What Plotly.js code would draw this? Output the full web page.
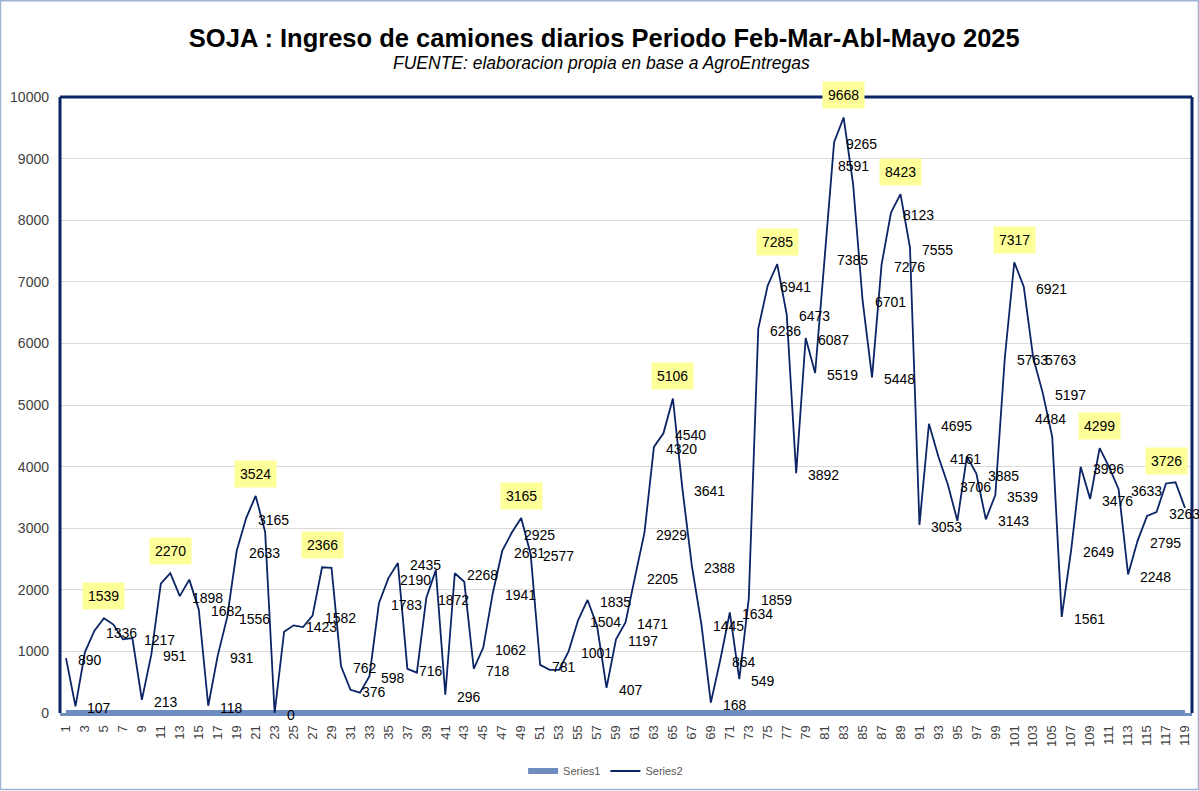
<!DOCTYPE html>
<html>
<head>
<meta charset="utf-8">
<script src="https://cdn.plot.ly/plotly-3.0.1.min.js"></script>
<style>html,body{margin:0;padding:0;background:#fff;}#chart{width:1199px;height:791px;}</style>
</head>
<body>
<div id="chart"></div>
<script>
// Día (categoría) 1..119
const dias = Array.from({length: 119}, (_, k) => k + 1);

// Ingreso diario de camiones (Series2)
const camiones = [
  890, 107, 990, 1336, 1539, 1435, 1195, 1217, 213, 951,
  2100, 2270, 1898, 2165, 1682, 118, 931, 1556, 2633, 3165,
  3524, 2940, 0, 1320, 1423, 1395, 1582, 2366, 2355, 762,
  376, 330, 598, 1783, 2190, 2435, 716, 655, 1872, 2320,
  296, 2268, 2130, 718, 1062, 1941, 2631, 2925, 3165, 2577,
  781, 700, 700, 1001, 1504, 1835, 1415, 407, 1197, 1471,
  2205, 2929, 4320, 4540, 5106, 3641, 2388, 1445, 168, 864,
  1634, 549, 1859, 6236, 6941, 7285, 6473, 3892, 6087, 5519,
  7385, 9265, 9668, 8591, 6701, 5448, 7276, 8123, 8423, 7555,
  3053, 4695, 4161, 3706, 3120, 4165, 3885, 3143, 3539, 5763,
  7317, 6921, 5763, 5197, 4484, 1561, 2649, 3996, 3476, 4299,
  3990, 3633, 2248, 2795, 3200, 3263, 3726, 3745, 3330
];

// Series1 (todo cero)
const serie1 = dias.map(() => 0);

// Días sin etiqueta visible
const sinEtiqueta = [3, 6, 7, 11, 14, 22, 24, 26, 29, 32, 38, 40, 43, 52, 53, 57, 95, 96, 111, 115, 118, 119];
// Picos resaltados en amarillo
const picos = [5, 12, 21, 28, 49, 65, 76, 83, 89, 101, 110, 117];

// Etiquetas del eje X (impares)
const ticksX = dias.filter(d => d % 2 === 1);
const ticksY = [0, 1000, 2000, 3000, 4000, 5000, 6000, 7000, 8000, 9000, 10000];

// Estilo: desplazamientos manuales (px) de algunas etiquetas, como en el original
const desplazamientos = {84: [-27, 20], 105: [-29, 20]};

const navy = '#0b2466';
const fontLbl = 'Liberation Sans, Arial, sans-serif';

const annotations = [];
dias.forEach((d, k) => {
  const v = camiones[k];
  if (picos.includes(d)) {
    annotations.push({
      x: d, y: v, xref: 'x', yref: 'y', text: String(v), showarrow: false,
      xanchor: 'center', yanchor: 'bottom', yshift: 8,
      bgcolor: '#ffff99', borderpad: 5,
      font: {family: fontLbl, size: 14, color: '#000000'}
    });
  } else if (!sinEtiqueta.includes(d)) {
    const off = desplazamientos[d] || [0, 0];
    annotations.push({
      x: d, y: v, xref: 'x', yref: 'y', text: String(v), showarrow: false,
      xanchor: 'left', yanchor: 'middle', xshift: 10 + off[0], yshift: -2 + off[1],
      font: {family: fontLbl, size: 14, color: '#000000'}
    });
  }
});

annotations.push({
  xref: 'paper', yref: 'paper', x: 0.478, y: (714 - 63) / 617,
  xanchor: 'center', yanchor: 'middle', showarrow: false,
  text: '<i>FUENTE: elaboracion propia en base a AgroEntregas</i>',
  font: {family: fontLbl, size: 17.5, color: '#000000'}
});

const traces = [
  {
    x: dias, y: serie1, name: 'Series1', type: 'scatter', mode: 'lines',
    line: {color: '#6f8cc0', width: 6}, hoverinfo: 'skip'
  },
  {
    x: dias, y: camiones, name: 'Series2', type: 'scatter', mode: 'lines',
    line: {color: navy, width: 1.8}
  }
];

const layout = {
  width: 1199, height: 791,
  margin: {l: 60, r: 7, t: 97, b: 77},
  paper_bgcolor: '#ffffff', plot_bgcolor: '#ffffff',
  title: {
    text: '<b>SOJA : Ingreso de camiones diarios Periodo Feb-Mar-Abl-Mayo 2025</b>',
    x: 0.504, xanchor: 'center', xref: 'container',
    y: 1 - 38 / 791, yanchor: 'middle', yref: 'container',
    font: {family: fontLbl, size: 25.5, color: '#000000'}
  },
  xaxis: {
    range: [0.367, 119.74], tickmode: 'array', tickvals: ticksX,
    ticktext: ticksX.map(String), tickangle: -90,
    tickfont: {family: fontLbl, size: 13, color: '#404040'},
    showgrid: false, zeroline: false, ticks: '', ticklabelstandoff: 4,
    showline: true, linecolor: '#6f8cc0', linewidth: 3
  },
  yaxis: {
    range: [0, 10000], tickmode: 'array', tickvals: ticksY,
    ticktext: ticksY.map(String),
    tickfont: {family: fontLbl, size: 14, color: '#404040'},
    showgrid: true, gridcolor: '#d9d9d9', gridwidth: 1,
    zeroline: false, showline: false, ticks: '', ticklabelstandoff: 10
  },
  showlegend: true,
  legend: {
    orientation: 'h', x: 0.482, xanchor: 'center', y: (714 - 771) / 617, yanchor: 'middle',
    font: {family: fontLbl, size: 11, color: '#595959'}, bgcolor: 'rgba(0,0,0,0)'
  },
  shapes: [
    {type: 'line', xref: 'paper', yref: 'paper', x0: 0, x1: 0, y0: 0, y1: 1, line: {color: navy, width: 3}},
    {type: 'line', xref: 'paper', yref: 'paper', x0: 1, x1: 1, y0: 0, y1: 1, line: {color: navy, width: 3}},
    {type: 'line', xref: 'paper', yref: 'paper', x0: 0, x1: 1, y0: 1, y1: 1, line: {color: navy, width: 3}},
    {type: 'rect', xref: 'paper', yref: 'paper', x0: -0.0526, x1: 1.0057, y0: -0.1240, y1: 1.1564,
     line: {color: '#9fb3d6', width: 1.5}}
  ],
  annotations: annotations
};

Plotly.newPlot('chart', traces, layout, {displayModeBar: false, staticPlot: true});
</script>
</body>
</html>
